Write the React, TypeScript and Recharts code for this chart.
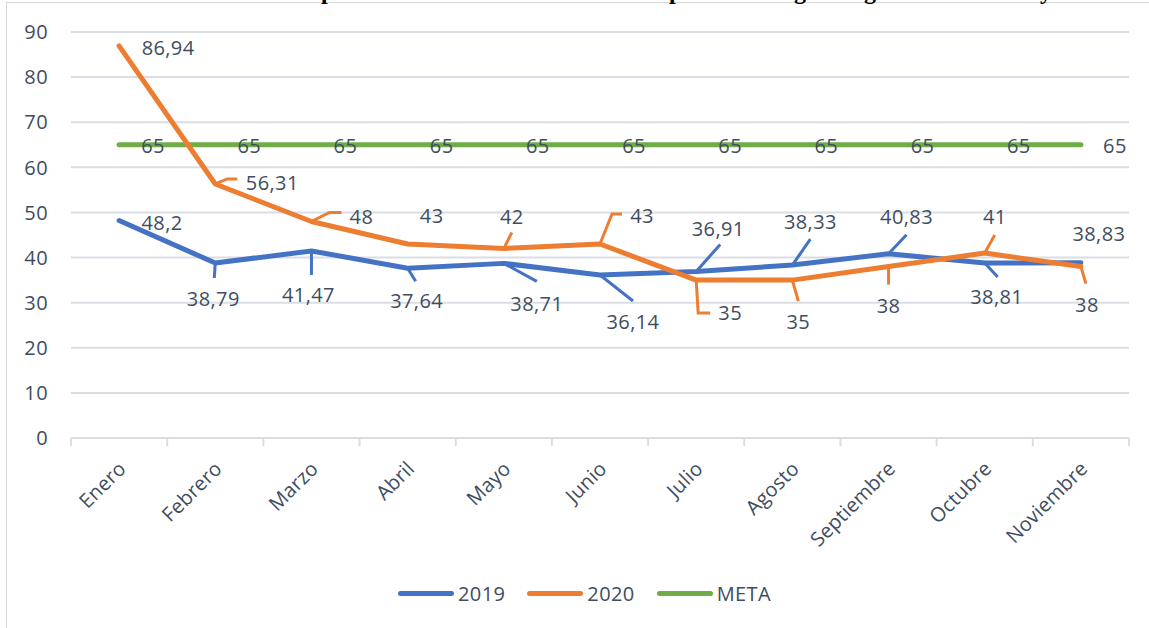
import { LineChart, Line, XAxis, YAxis, CartesianGrid } from 'recharts'

const months = ['Enero', 'Febrero', 'Marzo', 'Abril', 'Mayo', 'Junio', 'Julio', 'Agosto', 'Septiembre', 'Octubre', 'Noviembre']
const values2019 = [48.2, 38.79, 41.47, 37.64, 38.71, 36.14, 36.91, 38.33, 40.83, 38.81, 38.83]
const values2020 = [86.94, 56.31, 48, 43, 42, 43, 35, 35, 38, 41, 38]
const metaValues = [65, 65, 65, 65, 65, 65, 65, 65, 65, 65, 65]
const yTicks = [0, 10, 20, 30, 40, 50, 60, 70, 80, 90]

const data = months.map((m, i) => ({ month: m, y2019: values2019[i], y2020: values2020[i], meta: metaValues[i] }))

// label placement (Excel moved labels) relative to each point
type Pt = [number, number]
const off2019: Pt[] = [[43, 2], [-2, 36], [-3, 44], [9, 33], [33, 40], [33, 47], [22, -43], [18, -43], [18, -37], [12, 34], [18, -29]]
const lead2019: (Pt[] | null)[] = [
  null, [[0, 0], [-1, 15]], [[0, 0], [0, 24]], [[0, 0], [8, 13]], [[0, 0], [33, 18]], [[0, 0], [33, 26]],
  [[0, 0], [24, -27]], [[0, 0], [18, -26]], [[0, 0], [18, -19]], [[0, 0], [13, 14]], null,
]
const off2020: Pt[] = [[49, 2], [57, -1], [50, -5], [24, -28], [8, -32], [42, -28], [34, 33], [6, 42], [0, 39], [10, -36], [6, 38]]
const lead2020: (Pt[] | null)[] = [
  null, [[0, 0], [12, -5], [22, -5]], [[0, 0], [18, -9], [30, -9]], null, [[0, 0], [8, -16]], [[0, 0], [12, -30], [22, -30]],
  [[0, 0], [2, 33], [14, 33]], [[0, 0], [6, 21]], [[0, 0], [0, 18]], [[0, 0], [10, -18]], [[0, 0], [5, 17]],
]
const offMeta: Pt[] = months.map(() => [34, 1] as Pt)

const TEXT = '#404d61'
const FONT = '"Open Sans", "Noto Sans", sans-serif'
const FS = 20
const GRID = '#dadee4'
const BLUE = '#4472c4'
const ORANGE = '#ed7d31'
const GREEN = '#70ad47'
const HALF_BAND = (1129 - 71) / 11 / 2

const fmt = (v: number) => String(v).replace('.', ',')

const makeLabel = (offs: Pt[], leads: (Pt[] | null)[] | null, color: string) => (props: any) => {
  const { x, y, index, value } = props
  if (x == null || y == null) return null
  const [dx, dy] = offs[index]
  const lead = leads ? leads[index] : null
  return (
    <g key={`lbl-${color}-${index}`}>
      {lead && (
        <polyline
          points={lead.map(([a, b]) => `${x + a},${y + b}`).join(' ')}
          fill="none"
          stroke={color}
          strokeWidth={3}
        />
      )}
      <text x={x + dx} y={y + dy} dy="0.36em" textAnchor="middle" fill={TEXT} fontSize={FS} letterSpacing={0.4} fontFamily={FONT}>
        {fmt(value)}
      </text>
    </g>
  )
}

const MonthTick = (props: any) => {
  const { x, index, payload } = props
  const ax = x + 8
  const ay = 470
  return (
    <g>
      <line x1={x - HALF_BAND} x2={x - HALF_BAND} y1={438} y2={446} stroke={GRID} strokeWidth={2} />
      {index === months.length - 1 && (
        <line x1={x + HALF_BAND} x2={x + HALF_BAND} y1={438} y2={446} stroke={GRID} strokeWidth={2} />
      )}
      <text x={ax} y={ay} textAnchor="end" transform={`rotate(-45 ${ax} ${ay})`} fill={TEXT} fontSize={FS} letterSpacing={0.2} fontFamily={FONT}>
        {payload.value}
      </text>
    </g>
  )
}

const ValueTick = (props: any) => {
  const { y, payload } = props
  return (
    <text x={48} y={y} dy="0.36em" textAnchor="end" fill={TEXT} fontSize={FS} letterSpacing={0.4} fontFamily={FONT}>
      {payload.value}
    </text>
  )
}

const legendItems = [
  { name: '2019', color: BLUE },
  { name: '2020', color: ORANGE },
  { name: 'META', color: GREEN },
]

export default function App() {
  return (
    <div style={{ position: 'absolute', left: 0, top: 0, width: 1149, height: 628, overflow: 'hidden', background: '#fff', fontFamily: FONT }}>
      <div style={{ position: 'absolute', left: 6, top: 2, width: 1300, height: 800, border: '1.5px solid #d9d9d9' }} />
      {/* the title sits above the crop; only its descenders show */}
      <svg width={1149} height={10} style={{ position: 'absolute', left: 0, top: 0 }}>
        {[['p', 321], ['p', 669], ['g', 794], ['g', 864], ['y', 1040]].map(([c, px]) => (
          <text key={String(px)} x={px as number} y={-1} fontFamily='"Liberation Serif", serif' fontWeight="bold" fontSize={24} fill="#000">
            {c}
          </text>
        ))}
      </svg>
      <div style={{ position: 'absolute', left: 0, top: 0 }}>
        <LineChart width={1149} height={628} data={data} margin={{ top: 32, right: 20, bottom: 0, left: 0 }}>
          <CartesianGrid vertical={false} stroke={GRID} strokeWidth={2} />
          <XAxis
            dataKey="month"
            interval={0}
            height={190}
            padding={{ left: HALF_BAND, right: HALF_BAND }}
            axisLine={{ stroke: GRID, strokeWidth: 2 }}
            tickLine={false}
            tick={<MonthTick />}
          />
          <YAxis width={71} domain={[0, 90]} ticks={yTicks} axisLine={false} tickLine={false} tick={<ValueTick />} />
          <Line
            dataKey="meta"
            stroke={GREEN}
            strokeWidth={5}
            strokeLinecap="round"
            dot={false}
            activeDot={false}
            isAnimationActive={false}
            label={makeLabel(offMeta, null, GREEN)}
          />
          <Line
            dataKey="y2019"
            stroke={BLUE}
            strokeWidth={5}
            strokeLinecap="round"
            strokeLinejoin="round"
            dot={false}
            activeDot={false}
            isAnimationActive={false}
            label={makeLabel(off2019, lead2019, BLUE)}
          />
          <Line
            dataKey="y2020"
            stroke={ORANGE}
            strokeWidth={5}
            strokeLinecap="round"
            strokeLinejoin="round"
            dot={false}
            activeDot={false}
            isAnimationActive={false}
            label={makeLabel(off2020, lead2020, ORANGE)}
          />
        </LineChart>
      </div>
      <div style={{ position: 'absolute', left: 398, top: 581, display: 'flex', alignItems: 'center', height: 24 }}>
        {legendItems.map((it) => (
          <div key={it.name} style={{ display: 'flex', alignItems: 'center', marginRight: 22 }}>
            <div style={{ width: 56, height: 5, borderRadius: 3, background: it.color, marginRight: 4 }} />
            <span style={{ fontSize: FS, letterSpacing: 0.4, color: TEXT }}>{it.name}</span>
          </div>
        ))}
      </div>
    </div>
  )
}
